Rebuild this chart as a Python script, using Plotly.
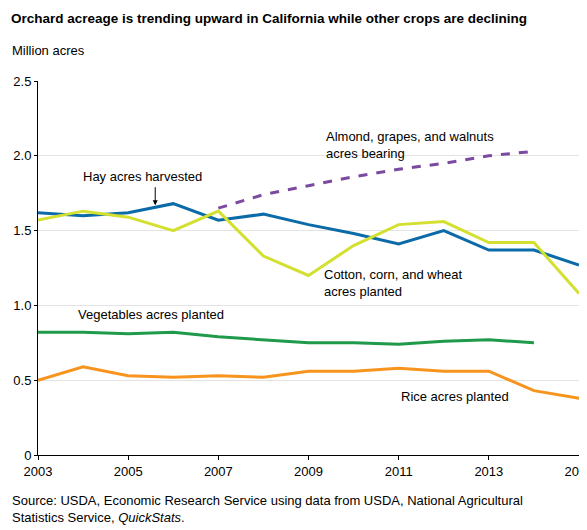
import plotly.graph_objects as go

years = list(range(2003, 2016))
hay = [1.62, 1.60, 1.62, 1.68, 1.57, 1.61, 1.54, 1.48, 1.41, 1.50, 1.37, 1.37, 1.27]
cotton = [1.57, 1.63, 1.59, 1.50, 1.63, 1.33, 1.20, 1.40, 1.54, 1.56, 1.42, 1.42, 1.08]
orchard_years = list(range(2007, 2015))
orchard = [1.65, 1.74, 1.80, 1.86, 1.91, 1.95, 2.00, 2.03]
veg_years = list(range(2003, 2015))
veg = [0.82, 0.82, 0.81, 0.82, 0.79, 0.77, 0.75, 0.75, 0.74, 0.76, 0.77, 0.75]
rice = [0.50, 0.59, 0.53, 0.52, 0.53, 0.52, 0.56, 0.56, 0.58, 0.56, 0.56, 0.43, 0.38]

fig = go.Figure()
fig.add_trace(go.Scatter(x=years, y=hay, mode="lines", line=dict(color="#0b6aa8", width=3)))
fig.add_trace(go.Scatter(x=years, y=cotton, mode="lines", line=dict(color="#d4e030", width=3)))
fig.add_trace(go.Scatter(x=orchard_years, y=orchard, mode="lines",
                         line=dict(color="#7b4aa0", width=3, dash="dash")))
fig.add_trace(go.Scatter(x=veg_years, y=veg, mode="lines", line=dict(color="#1e9a4a", width=3)))
fig.add_trace(go.Scatter(x=years, y=rice, mode="lines", line=dict(color="#f7941d", width=3)))

font = dict(family="Arial, Liberation Sans", size=13, color="black")
notes = [
    (2003.95, 1.86, "Hay acres harvested"),
    (2009.35, 2.07, "Almond, grapes, and walnuts<br>acres bearing"),
    (2009.3, 1.15, "Cotton, corn, and wheat<br>acres planted"),
    (2003.85, 0.94, "Vegetables acres planted"),
    (2011.0, 0.39, "Rice acres planted"),
]
for x, y, t in notes:
    fig.add_annotation(x=x, y=y, text=t, showarrow=False, xanchor="left", align="left", font=font)
fig.add_annotation(x=2005.6, y=1.67, ax=2005.6, ay=1.80, axref="x", ayref="y",
                   text="", showarrow=True, arrowhead=2, arrowsize=1, arrowwidth=1, arrowcolor="black")

fig.update_layout(
    width=587, height=530, showlegend=False,
    plot_bgcolor="white", paper_bgcolor="white",
    margin=dict(l=30, r=16, t=73, b=83, autoexpand=False),
    font=font,
    title=dict(text="<b>Orchard acreage is trending upward in California while other crops are declining</b>",
               x=0.005, y=0.99, xanchor="left", yanchor="top", font=dict(size=13.5)),
)
fig.add_annotation(x=0, y=1.055, xref="paper", yref="paper", xanchor="left", yanchor="bottom",
                   text="Million acres", showarrow=False, font=font, xshift=-28)
fig.add_annotation(x=0, y=-0.095, xref="paper", yref="paper", xanchor="left", yanchor="top", align="left",
                   text="Source: USDA, Economic Research Service using data from USDA, National Agricultural<br>Statistics Service, <i>QuickStats</i>.",
                   showarrow=False, font=font, xshift=-28)
fig.update_xaxes(range=[2003, 2015], tickvals=list(range(2003, 2016, 2)), showgrid=False,
                 showline=True, linecolor="black", ticks="outside", ticklen=4, tickcolor="black",
                 automargin=False)
fig.update_yaxes(range=[0, 2.5], tickvals=[0, 0.5, 1.0, 1.5, 2.0, 2.5],
                 ticktext=["0", "0.5", "1.0", "1.5", "2.0", "2.5"], showgrid=True, gridcolor="#e3e3e3",
                 showline=True, linecolor="black", ticks="outside", ticklen=3, tickcolor="black",
                 zeroline=False, automargin=False)
fig.write_html("out.html")
